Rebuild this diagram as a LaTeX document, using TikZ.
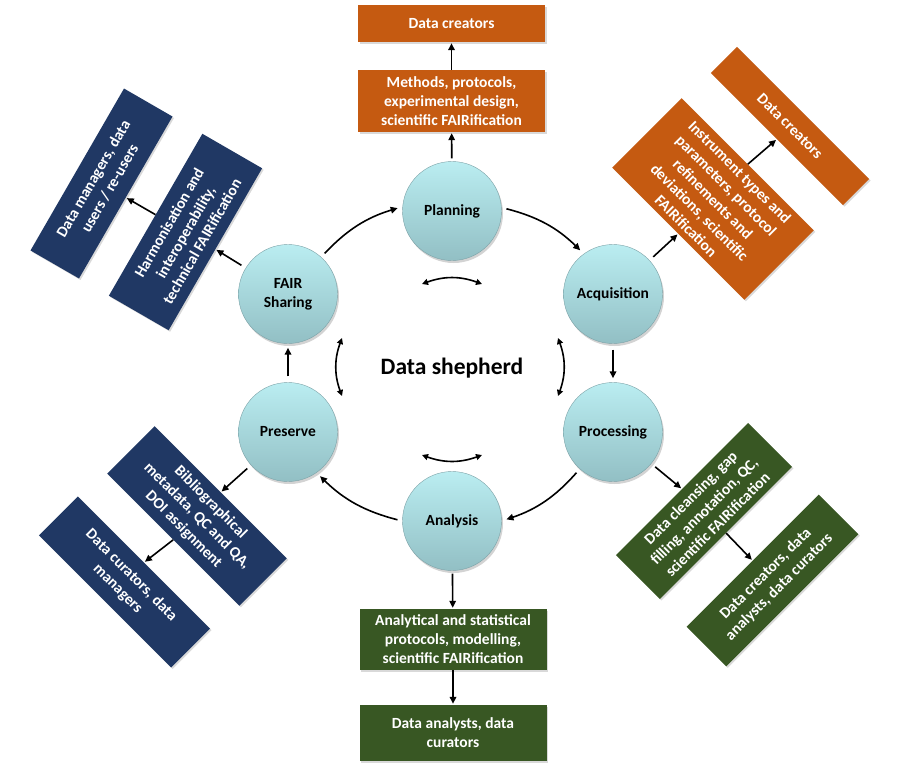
\documentclass[tikz,border=0pt]{standalone}
\usepackage{fontspec}
\setmainfont{Carlito}
\usetikzlibrary{arrows.meta,shadows}
\definecolor{Cyan}{HTML}{BAEDF1}
\definecolor{CyanDark}{HTML}{92BFC4}
\definecolor{Rust}{HTML}{C55A11}
\definecolor{Navy}{HTML}{203864}
\definecolor{Olive}{HTML}{385723}

\begin{document}
\begin{tikzpicture}[x=1pt,y=1pt,
  stage/.style={circle,minimum size=99pt,inner sep=0pt,top color=Cyan,bottom color=CyanDark,
    draw=CyanDark!85!black,line width=0.4pt,align=center,
    drop shadow={shadow xshift=1.5pt,shadow yshift=-2.5pt,opacity=0.35},
    font=\bfseries\fontsize{15.5}{19}\selectfont},
  card/.style={fill=#1,text=white,align=center,inner sep=0pt,minimum width=187pt,
    drop shadow={shadow xshift=1.5pt,shadow yshift=-1.5pt,opacity=0.3},
    font=\bfseries\fontsize{15.5}{19}\selectfont},
  flow/.style={-{Triangle[length=7pt,width=6.5pt]},line width=1.6pt,shorten >=1pt},
  swap/.style={{Triangle[length=6pt,width=6pt]}-{Triangle[length=6pt,width=6pt]},line width=1.6pt}]
  \useasboundingbox (0,0) rectangle (897,-766);

  % cycle
  \node[stage] (plan) at (452,-211) {Planning};
  \node[stage] (acq) at (613,-294) {Acquisition};
  \node[stage] (proc) at (613,-432) {Processing};
  \node[stage] (ana) at (452,-521) {Analysis};
  \node[stage] (pres) at (288,-432) {Preserve};
  \node[stage] (fair) at (288,-294) {FAIR\\Sharing};
  \node[font=\bfseries\fontsize{23.5}{28}\selectfont] (shep) at (452,-368) {Data shepherd};

  % outputs
  \node[card=Rust,minimum height=37pt] (creaA) at (451.5,-23.5) {Data creators};
  \node[card=Rust,minimum height=62pt] (meth) at (451.5,-101) {Methods, protocols,\\experimental design,\\scientific FAIRification};
  \node[card=Rust,minimum height=98pt,rotate=-45] (instr) at (713,-199) {Instrument types and\\parameters, protocol\\refinements and\\deviations, scientific\\FAIRification};
  \node[card=Rust,minimum height=37pt,rotate=-45] (creaB) at (790,-126) {Data creators};
  \node[card=Olive,minimum height=62pt,rotate=45] (clean) at (704,-511) {Data cleansing, gap\\filling, annotation, QC,\\scientific FAIRification};
  \node[card=Olive,minimum height=56pt,rotate=45] (creaC) at (772.5,-580.5) {Data creators, data\\analysts, data curators};
  \node[card=Olive,minimum height=61pt] (anly) at (453,-639.5) {Analytical and statistical\\protocols, modelling,\\scientific FAIRification};
  \node[card=Olive,minimum height=56pt] (users) at (453,-733) {Data analysts, data\\curators};
  \node[card=Navy,minimum height=67pt,rotate=-45] (biblio) at (197,-516) {Bibliographical\\metadata, QC and QA,\\DOI assignment};
  \node[card=Navy,minimum height=55pt,rotate=-45] (cur) at (124.5,-582) {Data curators, data\\managers};
  \node[card=Navy,minimum height=69pt,rotate=60] (harm) at (185.5,-232) {Harmonisation and\\interoperability,\\technical FAIRification};
  \node[card=Navy,minimum height=56pt,rotate=60] (mgr) at (101.5,-183.5) {Data managers, data\\users / re-users};

  % cycle arrows
  \draw[flow,shorten <=5pt,shorten >=5pt] (fair.48) to[bend left=15] (plan.175);
  \draw[flow,shorten <=5pt,shorten >=5pt] (plan.4) to[bend left=15] (acq.126);
  \draw[flow,shorten <=6pt,shorten >=4pt] (acq) -- (proc);
  \draw[flow,shorten <=5pt,shorten >=5pt] (proc.228) to[bend left=15] (ana.0);
  \draw[flow,shorten <=5pt,shorten >=5pt] (ana.180) to[bend left=15] (pres.-55);
  \draw[flow,shorten <=6pt,shorten >=4pt] (pres) -- (fair);

  % output arrows
  \draw[flow,shorten <=3pt] (plan) -- (meth);
  \draw[flow] (meth) -- (creaA);
  \draw[flow,shorten <=5pt] (acq) -- (instr.south);
  \draw[flow] (instr.north) -- (creaB.south);
  \draw[flow,shorten <=5pt] (proc) -- (clean.north);
  \draw[flow] (clean.south) -- (creaC.north);
  \draw[flow,shorten <=3pt] (ana) -- (anly);
  \draw[flow] (anly) -- (users);
  \draw[flow,shorten <=5pt] (pres) -- (biblio.north);
  \draw[flow] (biblio.south) -- (cur.north);
  \draw[flow,shorten <=5pt] (fair) -- (harm.south);
  \draw[flow] (harm.north) -- (mgr.south);

  % shepherd links
  \coordinate (topL) at (422,-284); \coordinate (topR) at (482,-284);
  \coordinate (botL) at (422,-455); \coordinate (botR) at (482,-455);
  \coordinate (lefT) at (342,-338); \coordinate (lefB) at (342,-396);
  \coordinate (rigT) at (558,-338); \coordinate (rigB) at (558,-396);
  \draw[swap] (topL) to[bend left=20] (topR);
  \draw[swap] (botL) to[bend right=20] (botR);
  \draw[swap] (lefT) to[bend right=20] (lefB);
  \draw[swap] (rigT) to[bend left=20] (rigB);
\end{tikzpicture}
\end{document}
